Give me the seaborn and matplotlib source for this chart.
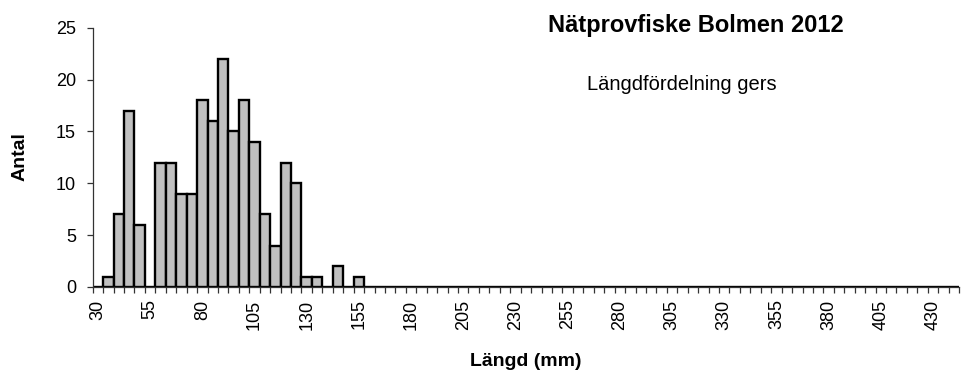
import numpy as np
import pandas as pd
import matplotlib
matplotlib.use("Agg")
import matplotlib.pyplot as plt
from matplotlib.ticker import FixedLocator
import seaborn as sns

# Length classes (mm), 5 mm steps from 30 to 440
lengths = list(range(30, 445, 5))
# Catch per length class
counts_known = {35: 1, 40: 7, 45: 17, 50: 6, 60: 12, 65: 12, 70: 9, 75: 9,
                80: 18, 85: 16, 90: 22, 95: 15, 100: 18, 105: 14, 110: 7,
                115: 4, 120: 12, 125: 10, 130: 1, 135: 1, 145: 2, 155: 1}
counts = [counts_known.get(l, 0) for l in lengths]
tick_labels = [str(l) if (l - 30) % 25 == 0 else "" for l in lengths]

title = "Nätprovfiske Bolmen 2012"
subtitle = "Längdfördelning gers"

sns.set_theme(style="white")
plt.rcParams["font.family"] = ["Liberation Sans", "DejaVu Sans"]
plt.rcParams["text.color"] = "black"
plt.rcParams["xtick.color"] = "black"
plt.rcParams["ytick.color"] = "black"

df = pd.DataFrame({"length": [str(l) for l in lengths], "count": counts})

fig = plt.figure(figsize=(9.61, 3.72), dpi=100)
ax = fig.add_axes([0.0965, 0.2285, 0.9015, 0.697])

sns.barplot(data=df, x="length", y="count", order=df["length"], ax=ax,
            color="#C0C0C0", width=1.0, edgecolor="black", linewidth=1.7,
            saturation=1)

ax.set_xlim(-0.5, len(lengths) - 0.5)
ax.set_ylim(0, 25)
ax.set_yticks([0, 5, 10, 15, 20, 25])

# category labels at centres, tick marks at class boundaries
ax.set_xticks(range(len(lengths)))
ax.set_xticklabels(tick_labels, rotation=90, fontsize=13)
ax.tick_params(axis="x", which="major", length=0, pad=9)
ax.xaxis.set_minor_locator(FixedLocator(np.arange(-0.5, len(lengths), 1.0)))
ax.tick_params(axis="x", which="minor", length=4.3, width=0.9, color="#333333",
               direction="out", bottom=True)
ax.tick_params(axis="y", length=4, width=0.9, color="#333333", direction="out",
               left=True, labelsize=13, pad=8)

for s in ["top", "right"]:
    ax.spines[s].set_visible(False)
for s in ["left", "bottom"]:
    ax.spines[s].set_color("#333333")
    ax.spines[s].set_linewidth(0.9)

ax.set_xlabel("")
ax.set_ylabel("")
fig.text(526 / 961, 1 - 366 / 372, "Längd (mm)", ha="center", va="baseline",
         fontsize=14, fontweight="bold")
fig.text(20 / 961, 1 - 157 / 372, "Antal", ha="center", va="center",
         rotation=90, fontsize=14, fontweight="bold")
fig.text(696 / 961, 1 - 31.7 / 372, title, ha="center", va="baseline",
         fontsize=17, fontweight="bold")
fig.text(682 / 961, 1 - 90 / 372, subtitle, ha="center", va="baseline",
         fontsize=14.5)

fig.savefig("out.png", dpi=100, facecolor="white")
